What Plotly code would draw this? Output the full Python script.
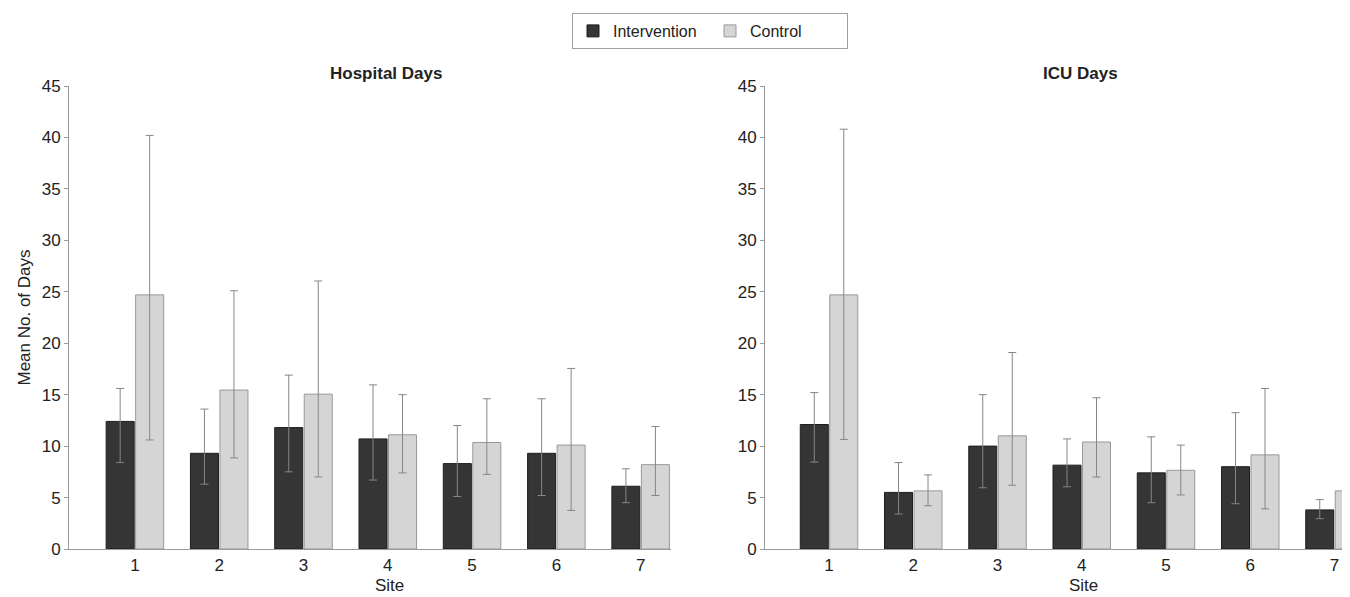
import plotly.graph_objects as go

sites = [1, 2, 3, 4, 5, 6, 7]
tick_labels = ["1", "2", "3", "4", "5", "6", "7"]

# Hospital days: mean, upper CI, lower CI
hosp_int_mean = [12.4, 9.3, 11.8, 10.7, 8.3, 9.3, 6.1]
hosp_int_hi = [15.6, 13.6, 16.9, 15.95, 12.0, 14.6, 7.8]
hosp_int_lo = [8.4, 6.3, 7.5, 6.7, 5.1, 5.2, 4.5]
hosp_ctl_mean = [24.7, 15.45, 15.05, 11.1, 10.35, 10.1, 8.2]
hosp_ctl_hi = [40.2, 25.1, 26.05, 15.0, 14.6, 17.55, 11.9]
hosp_ctl_lo = [10.6, 8.85, 7.0, 7.4, 7.25, 3.75, 5.2]

# ICU days: mean, upper CI, lower CI
icu_int_mean = [12.1, 5.5, 10.0, 8.15, 7.4, 8.0, 3.8]
icu_int_hi = [15.2, 8.4, 15.0, 10.7, 10.9, 13.25, 4.8]
icu_int_lo = [8.45, 3.4, 5.95, 6.05, 4.5, 4.4, 2.95]
icu_ctl_mean = [24.7, 5.65, 11.0, 10.4, 7.65, 9.15, 5.65]
icu_ctl_hi = [40.8, 7.2, 19.1, 14.7, 10.1, 15.6, 9.35]
icu_ctl_lo = [10.65, 4.2, 6.2, 7.0, 5.25, 3.9, 3.5]

y_ticks = [0, 5, 10, 15, 20, 25, 30, 35, 40, 45]

INT_COLOR = "#353535"
CTL_COLOR = "#d5d5d5"
ERR_COLOR = "#868686"
AXIS_COLOR = "#9a9a9a"
FONT = "Liberation Sans, Arial, sans-serif"

# page body has an 8px margin, so the figure is 8px smaller than the window
W, H = 1342, 589
OFF = 8


def px(x):
    return (x - OFF) / W


def py(y):
    return 1 - (y - OFF) / H


def err(mean, hi, lo):
    return dict(
        type="data",
        symmetric=False,
        array=[h - m for h, m in zip(hi, mean)],
        arrayminus=[m - l for m, l in zip(mean, lo)],
        color=ERR_COLOR,
        thickness=1,
        width=4,
    )


fig = go.Figure()

fig.add_trace(go.Bar(
    x=sites, y=hosp_int_mean, name="Intervention", legendgroup="int",
    marker=dict(color=INT_COLOR, line=dict(color="#1e1e1e", width=1)),
    error_y=err(hosp_int_mean, hosp_int_hi, hosp_int_lo),
    xaxis="x", yaxis="y", showlegend=True,
))
fig.add_trace(go.Bar(
    x=sites, y=hosp_ctl_mean, name="Control", legendgroup="ctl",
    marker=dict(color=CTL_COLOR, line=dict(color="#999999", width=1)),
    error_y=err(hosp_ctl_mean, hosp_ctl_hi, hosp_ctl_lo),
    xaxis="x", yaxis="y", showlegend=True,
))
fig.add_trace(go.Bar(
    x=sites, y=icu_int_mean, name="Intervention", legendgroup="int",
    marker=dict(color=INT_COLOR, line=dict(color="#1e1e1e", width=1)),
    error_y=err(icu_int_mean, icu_int_hi, icu_int_lo),
    xaxis="x2", yaxis="y2", showlegend=False,
))
fig.add_trace(go.Bar(
    x=sites, y=icu_ctl_mean, name="Control", legendgroup="ctl",
    marker=dict(color=CTL_COLOR, line=dict(color="#999999", width=1)),
    error_y=err(icu_ctl_mean, icu_ctl_hi, icu_ctl_lo),
    xaxis="x2", yaxis="y2", showlegend=False,
))

ydom = [py(549), py(86)]

xcommon = dict(
    tickmode="array", tickvals=sites, ticktext=tick_labels,
    showline=True, linecolor=AXIS_COLOR, linewidth=1,
    ticks="", showgrid=False, zeroline=False, ticklabelstandoff=1,
    tickfont=dict(size=17, color="#222222", family=FONT),
)
ycommon = dict(
    range=[0, 45], tickmode="array", tickvals=y_ticks,
    showline=True, linecolor=AXIS_COLOR, linewidth=1,
    ticks="outside", ticklen=4, tickcolor=AXIS_COLOR,
    showgrid=False, zeroline=False, domain=ydom,
    tickfont=dict(size=17, color="#222222", family=FONT),
)

fig.update_layout(
    width=W, height=H,
    margin=dict(l=0, r=0, t=0, b=0, autoexpand=False),
    paper_bgcolor="white", plot_bgcolor="white",
    font=dict(family=FONT, size=17, color="#222222"),
    barmode="group", bargap=0.3, bargroupgap=0.05,
    xaxis=dict(domain=[px(69), px(671)], range=[0.218, 7.36], anchor="y", **xcommon),
    xaxis2=dict(domain=[px(765), 1.0], range=[0.24, 7.184], anchor="y2", **xcommon),
    yaxis=dict(anchor="x", title=dict(text="Mean No. of Days", font=dict(size=17), standoff=6), **ycommon),
    yaxis2=dict(anchor="x2", **ycommon),
    legend=dict(
        orientation="h", x=px(572), xanchor="left", y=py(13), yanchor="top",
        bordercolor="#a0a0a0", borderwidth=1, bgcolor="white",
        font=dict(size=16, family=FONT, color="#222222"),
        itemwidth=30, traceorder="normal", entrywidth=92,
    ),
    annotations=[
        dict(text="<b>Hospital Days</b>", x=px(386), y=py(73), xref="paper", yref="paper",
             xanchor="center", yanchor="middle", showarrow=False, font=dict(size=17)),
        dict(text="<b>ICU Days</b>", x=px(1080), y=py(73), xref="paper", yref="paper",
             xanchor="center", yanchor="middle", showarrow=False, font=dict(size=17)),
        dict(text="Site", x=px(389), y=py(574), xref="paper", yref="paper",
             xanchor="center", yanchor="top", showarrow=False, font=dict(size=17)),
        dict(text="Site", x=px(1083), y=py(574), xref="paper", yref="paper",
             xanchor="center", yanchor="top", showarrow=False, font=dict(size=17)),
    ],
)

fig.write_html("out.html")
